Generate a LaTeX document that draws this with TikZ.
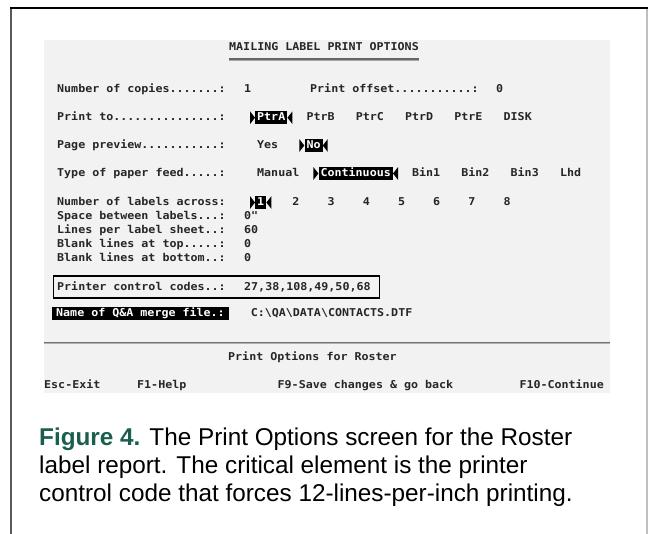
\documentclass[tikz,border=0pt]{standalone}
\usepackage{fontspec}
\setmainfont{Liberation Sans}
\newfontfamily\dosfont[FakeStretch=1.08]{DejaVu Sans Mono Bold}
\usetikzlibrary{positioning}

\definecolor{screengray}{RGB}{242,242,242}
\definecolor{figgreen}{RGB}{26,94,80}

\begin{document}
\begin{tikzpicture}
  [
    x=1pt,y=-1pt,
    scr/.style={font=\dosfont\fontsize{10.8}{14}\selectfont,text=black!85,inner sep=0pt,anchor=base west},
    sel/.style={scr,fill=black,text=white,inner xsep=2pt,inner ysep=1.2pt,text height=8pt,text depth=2pt},
    captext/.style={font=\fontsize{24.3}{27.7}\selectfont,inner sep=0pt,anchor=base west}
  ]
  \useasboundingbox (0,0) rectangle (648,534);

  % frame round the figure
  \draw[line width=1.2pt,black!25] (647,8) -- (647,534);
  \draw[line width=1.5pt,black!65] (11,8) -- (11,534);
  \draw[line width=1.5pt] (10,8) -- (648,8);

  % the screen
  \fill[screengray] (44,40) rectangle (610,393);
  \node[scr] at (229,51) (title) {MAILING LABEL PRINT OPTIONS};
  \draw[line width=1.4pt,black!60] (229,59.2) -- (419,59.2);
  \draw[line width=0.8pt,black!35] (229,60.8) -- (419,60.8);

  \node[scr] at (57,93) (copies) {Number of copies.......:};
  \node[scr] at (244,93) (copiesval) {1};
  \node[scr] at (310,93) (offset) {Print offset...........:};
  \node[scr] at (496,93) (offsetval) {0};

  \node[scr] at (57,120.7) (printto) {Print to...............:};
  \node[sel] at (255,120.7) (ptrA) {PtrA};
  \node[scr] at (306.3,120.7) (ptrB) {PtrB};
  \node[scr] at (355.6,120.7) (ptrC) {PtrC};
  \node[scr] at (404.9,120.7) (ptrD) {PtrD};
  \node[scr] at (454.2,120.7) (ptrE) {PtrE};
  \node[scr] at (503.5,120.7) (disk) {DISK};

  \node[scr] at (57,148.5) (preview) {Page preview...........:};
  \node[scr] at (257,148.5) (yes) {Yes};
  \node[sel] at (304.3,148.5) (no) {No};

  \node[scr] at (57,176.5) (feed) {Type of paper feed.....:};
  \node[scr] at (257,176.5) (manual) {Manual};
  \node[sel] at (318.4,176.5) (cont) {Continuous};
  \node[scr] at (411.9,176.5) (bin1) {Bin1};
  \node[scr] at (461.2,176.5) (bin2) {Bin2};
  \node[scr] at (510.5,176.5) (bin3) {Bin3};
  \node[scr] at (559.8,176.5) (lhd) {Lhd};

  \node[scr] at (57,205.5) (across) {Number of labels across:};
  \node[sel] at (255,205.5) (across1) {1};
  \foreach \d [count=\k] in {2,...,8}
    \node[scr] at ({257+5*\k*7.04},205.5) (across\d) {\d};

  \node[scr] at (57,219.5) (space) {Space between labels...:};
  \node[scr] at (244,219.5) (spaceval) {0"};
  \node[scr] at (57,233.5) (lines) {Lines per label sheet..:};
  \node[scr] at (244,233.5) (linesval) {60};
  \node[scr] at (57,247.5) (blanktop) {Blank lines at top.....:};
  \node[scr] at (244,247.5) (blanktopval) {0};
  \node[scr] at (57,261.5) (blankbot) {Blank lines at bottom..:};
  \node[scr] at (244,261.5) (blankbotval) {0};

  % arrow marks either side of a chosen option
  \foreach \n in {ptrA,no,cont,across1} {
    \fill ([xshift=-5pt]\n.north west) -- (\n.west) -- ([xshift=-5pt]\n.south west) -- cycle;
    \fill ([xshift=5pt]\n.north east) -- (\n.east) -- ([xshift=5pt]\n.south east) -- cycle;
  }

  \node[draw,line width=1.4pt,minimum width=326pt,minimum height=22pt,inner sep=0pt] at (216.7,287) (ctrlbox) {};
  \node[scr] at (57,290.5) (ctrl) {Printer control codes..:};
  \node[scr] at (244,290.5) (ctrlval) {27,38,108,49,50,68};

  \node[scr,fill=black,text=white,inner xsep=4pt,inner ysep=1.5pt,text height=8pt,text depth=2.5pt] at (52,316.5) (merge) {Name of Q\&A merge file.:};
  \node[scr] at (250.6,316.5) (mergeval) {C:\textbackslash QA\textbackslash DATA\textbackslash CONTACTS.DTF};

  \draw[line width=1.2pt,black!55] (44,342.2) -- (610,342.2);
  \draw[line width=0.8pt,black!30] (44,343.6) -- (610,343.6);

  \node[scr] at (228,360.5) (roster) {Print Options for Roster};
  \node[scr] at (44,388.5) (esc) {Esc-Exit};
  \node[scr] at (137,388.5) (help) {F1-Help};
  \node[scr] at (277.5,388.5) (save) {F9-Save changes \& go back};
  \node[scr,anchor=base east] at (604,388.5) (continue) {F10-Continue};

  % caption
  \node[captext] at (39,446) (cap1) {\textcolor{figgreen}{\textbf{Figure 4.}} The Print Options screen for the Roster};
  \node[captext] at (39,473.7) (cap2) {label report. The critical element is the printer};
  \node[captext] at (39,501.4) (cap3) {control code that forces 12-lines-per-inch printing.};
\end{tikzpicture}
\end{document}
